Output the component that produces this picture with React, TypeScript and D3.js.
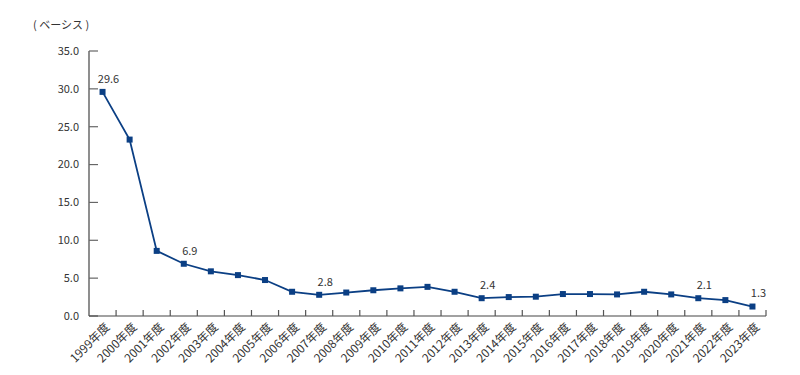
import * as d3 from "d3";

const years = [
  "1999", "2000", "2001", "2002", "2003", "2004", "2005", "2006", "2007", "2008",
  "2009", "2010", "2011", "2012", "2013", "2014", "2015", "2016", "2017", "2018",
  "2019", "2020", "2021", "2022", "2023",
];
const values = [
  29.6, 23.3, 8.6, 6.9, 5.9, 5.4, 4.75, 3.2, 2.8, 3.1,
  3.4, 3.65, 3.85, 3.2, 2.35, 2.5, 2.55, 2.9, 2.9, 2.85,
  3.2, 2.85, 2.35, 2.1, 1.25,
];
// value labels shown on the chart (year -> text)
const callouts = [
  { year: "1999", text: "29.6" },
  { year: "2002", text: "6.9" },
  { year: "2007", text: "2.8" },
  { year: "2013", text: "2.4" },
  { year: "2021", text: "2.1" },
  { year: "2023", text: "1.3" },
];
const yTicks = [0, 5, 10, 15, 20, 25, 30, 35];

const W = 800;
const H = 375;
const left = 89;
const right = 766;
const top = 51;
const bottom = 316;
const BLUE = "#0b3f84";
const FONT = "'Noto Sans CJK JP', 'Noto Sans', sans-serif";

export default function App() {
  const x = d3.scaleBand<string>().domain(years).range([left, right]);
  const y = d3.scaleLinear().domain([0, 35]).range([bottom, top]);
  const cx = (yr: string) => (x(yr) ?? 0) + x.bandwidth() / 2;
  const line = d3
    .line<number>()
    .x((_, i) => cx(years[i]))
    .y((d) => y(d));
  const byYear = new Map(years.map((yr, i) => [yr, values[i]]));

  return (
    <svg
      width={W}
      height={H}
      style={{ position: "absolute", left: 0, top: 0, background: "#fff" }}
      fontFamily={FONT}
    >
      <text x={33} y={29} fontSize={11} fill="#333">( ベーシス )</text>

      {/* y axis */}
      <line x1={left} x2={left} y1={top} y2={bottom} stroke="#444" strokeWidth={1.2} />
      {yTicks.map((t) => (
        <g key={t}>
          <line x1={left} x2={left + 9} y1={y(t)} y2={y(t)} stroke="#666" strokeWidth={1.2} />
          <text x={79} y={y(t)} dy="0.35em" textAnchor="end" fontSize={11} fill="#333">
            {t.toFixed(1)}
          </text>
        </g>
      ))}

      {/* x axis */}
      <line x1={left} x2={right} y1={bottom} y2={bottom} stroke="#444" strokeWidth={1.2} />
      {years.map((yr) => (
        <line
          key={"t" + yr}
          x1={(x(yr) ?? 0) + x.bandwidth()}
          x2={(x(yr) ?? 0) + x.bandwidth()}
          y1={bottom}
          y2={bottom - 6}
          stroke="#555"
          strokeWidth={1.2}
        />
      ))}
      {years.map((yr) => (
        <text
          key={"l" + yr}
          transform={`translate(${cx(yr) + 5},${bottom + 9}) rotate(-45)`}
          textAnchor="end"
          dy="0.35em"
          fontSize={11.8}
          fill="#333"
        >
          {yr}年度
        </text>
      ))}

      {/* series */}
      <path d={line(values) ?? ""} fill="none" stroke={BLUE} strokeWidth={1.8} />
      {values.map((v, i) => (
        <rect
          key={"m" + i}
          x={cx(years[i]) - 3}
          y={y(v) - 3}
          width={6}
          height={6}
          fill={BLUE}
        />
      ))}
      {callouts.map((c) => (
        <text
          key={"c" + c.year}
          x={cx(c.year) + 6}
          y={y(byYear.get(c.year) ?? 0) - 13}
          dy="0.35em"
          textAnchor="middle"
          fontSize={11}
          fill="#333"
        >
          {c.text}
        </text>
      ))}
    </svg>
  );
}
